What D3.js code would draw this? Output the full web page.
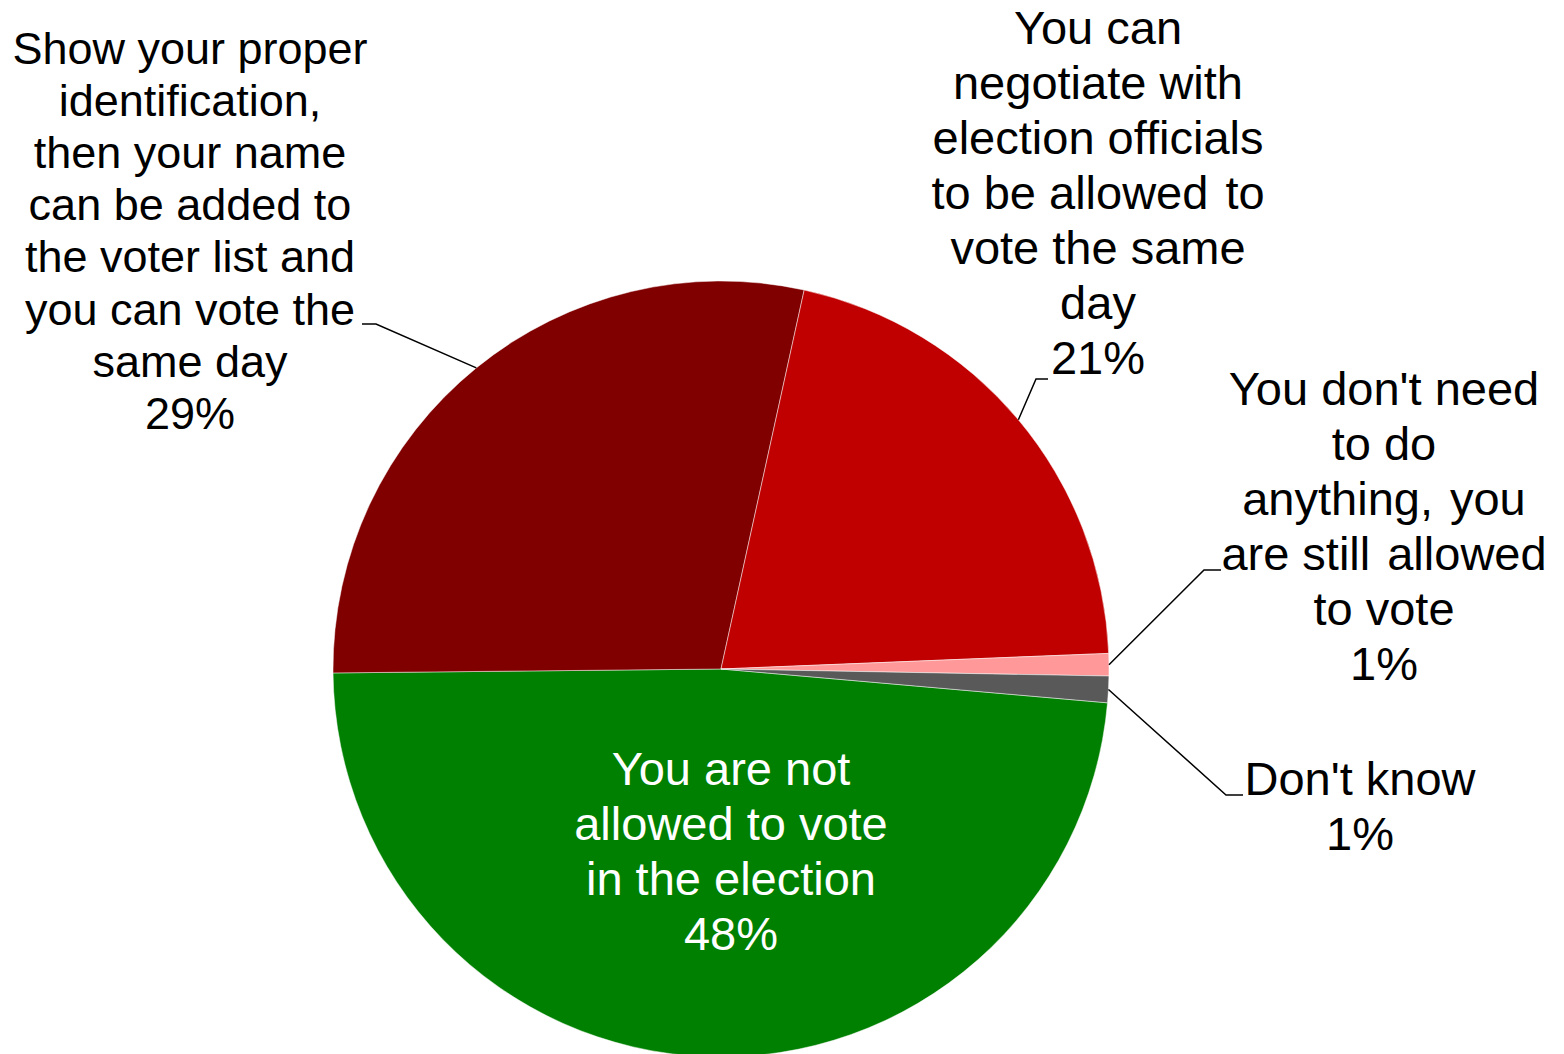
<!DOCTYPE html>
<html>
<head>
<meta charset="utf-8">
<script src="https://cdn.jsdelivr.net/npm/d3@7"></script>
<style>
  html, body { margin: 0; padding: 0; background: #fff; }
  svg { display: block; }
  text { font-family: "Liberation Sans", Arial, sans-serif; }
</style>
</head>
<body>
<svg id="chart" width="1564" height="1054"></svg>
<script>
// ---- data ----
const categories = [
  "You are not allowed to vote in the election",
  "Show your proper identification, then your name can be added to the voter list and you can vote the same day",
  "You can negotiate with election officials to be allowed to vote the same day",
  "You don't need to do anything, you are still allowed to vote",
  "Don't know"
];
const values = [48.45, 28.6, 20.92, 0.93, 1.1];
const labelLines = [
  ["You are not", "allowed to vote", "in the election"],
  ["Show your proper", "identification,", "then your name", "can be added to", "the voter list and", "you can vote the", "same day"],
  ["You can", "negotiate with", "election officials", "to be allowed \u200Ato", "vote the same", "day"],
  ["You don't need", "to do", "anything, \u200Ayou", "are still \u200Aallowed", "to vote"],
  ["Don't know"]
];
const colors = ["#008000", "#800000", "#C00000", "#FF9999", "#595959"];

// ---- layout ----
const cx = 721, cy = 669, R = 388;
// label block layout: center x, first line center y, line spacing, font size, text colour, leader (knee, end) or null
const labelLayout = [
  { x: 731,  y: 768, dy: 55,   fs: 47, fill: "#fff", leader: null },
  { x: 190,  y: 48,  dy: 52.2, fs: 45, fill: "#000", leader: { knee: [376, 324], end: [362, 324] } },
  { x: 1098, y: 27,  dy: 55,   fs: 47, fill: "#000", leader: { knee: [1036, 379], end: [1048, 379] } },
  { x: 1384, y: 388, dy: 55,   fs: 47, fill: "#000", leader: { knee: [1204, 570], end: [1221, 570] } },
  { x: 1360, y: 778, dy: 55,   fs: 47, fill: "#000", leader: { knee: [1226, 795], end: [1243, 795] } }
];

const svg = d3.select("#chart");
const g = svg.append("g").attr("transform", `translate(${cx},${cy})`);

const start = 95 * Math.PI / 180;
const pie = d3.pie().sort(null).startAngle(start).endAngle(start + 2 * Math.PI);
const arcs = pie(values);
const arc = d3.arc().innerRadius(0).outerRadius(R);

g.selectAll("path.slice")
  .data(arcs)
  .join("path")
  .attr("class", "slice")
  .attr("d", arc)
  .attr("fill", (d, i) => colors[i])
  .attr("stroke", "#fff")
  .attr("stroke-width", 0.8)
  .attr("stroke-opacity", 0.6);

// leader lines
arcs.forEach((d, i) => {
  const L = labelLayout[i].leader;
  if (!L) return;
  const mid = (d.startAngle + d.endAngle) / 2;
  const ex = cx + R * Math.sin(mid);
  const ey = cy - R * Math.cos(mid);
  svg.append("polyline")
    .attr("points", [[ex, ey], L.knee, L.end].map(p => p.join(",")).join(" "))
    .attr("fill", "none")
    .attr("stroke", "#000")
    .attr("stroke-width", 1.5);
});

// labels
arcs.forEach((d, i) => {
  const lay = labelLayout[i];
  const lines = labelLines[i].concat([Math.round(values[i]) + "%"]);
  const t = svg.append("text")
    .attr("text-anchor", "middle")
    .attr("font-size", lay.fs)
    .attr("fill", lay.fill)
    .style("white-space", "pre");
  lines.forEach((ln, k) => {
    t.append("tspan")
      .attr("x", lay.x)
      .attr("y", lay.y + k * lay.dy)
      .attr("dominant-baseline", "central")
      .text(ln);
  });
});
</script>
</body>
</html>
